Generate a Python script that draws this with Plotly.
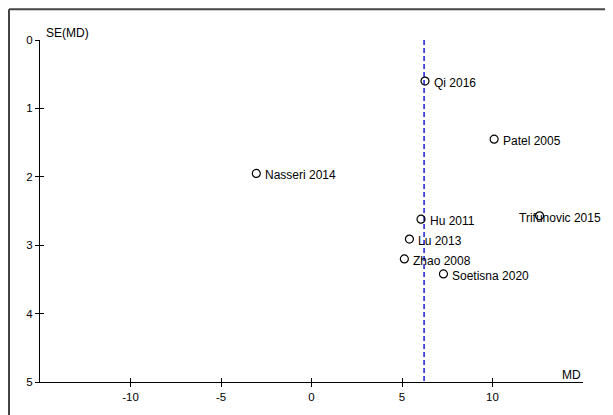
import plotly.graph_objects as go

# ---- data ----
studies = ["Qi 2016", "Patel 2005", "Nasseri 2014", "Hu 2011", "Trifunovic 2015",
           "Lu 2013", "Zhao 2008", "Soetisna 2020"]
md = [6.27, 10.09, -3.05, 6.05, 12.6, 5.41, 5.13, 7.29]
se_md = [0.60, 1.45, 1.95, 2.62, 2.57, 2.91, 3.20, 3.42]
pooled_md = 6.22
x_ticks = [-10, -5, 0, 5, 10]
x_tick_labels = ["-10", "-5", "0", "5", "10"]
y_ticks = [0, 1, 2, 3, 4, 5]
y_tick_labels = ["0", "1", "2", "3", "4", "5"]
x_range = [-15, 15]
y_range = [5, 0]

# label horizontal offsets (px) relative to marker
label_shift = {s: 7 for s in studies}
label_shift["Trifunovic 2015"] = -23

# page body has an 8px default margin, so the figure is 8px smaller
W, H = 605, 407
ML, MR, MT, MB = 32, 30, 32, 30
FONT = "Liberation Sans, Arial, sans-serif"

fig = go.Figure()

fig.add_trace(go.Scatter(
    x=[pooled_md, pooled_md], y=[y_range[1], y_range[0]], mode="lines",
    line=dict(color="#1a1acc", width=1.5, dash="5px,3px"),
    hoverinfo="skip", showlegend=False))

fig.add_trace(go.Scatter(
    x=md, y=se_md, mode="markers",
    marker=dict(symbol="circle-open", size=8, color="black", line=dict(width=1.2, color="black")),
    text=studies, showlegend=False))

# invisible trace on overlay axes (for inner tick halves)
fig.add_trace(go.Scatter(x=[x_range[0]], y=[y_range[0]], xaxis="x2", yaxis="y2",
                         mode="markers", marker=dict(opacity=0), hoverinfo="skip",
                         showlegend=False))

annotations = []
for s, x, y in zip(studies, md, se_md):
    annotations.append(dict(x=x, y=y, xref="x", yref="y", text=s, showarrow=False,
                            xanchor="left", yanchor="middle", xshift=label_shift[s],
                            yshift=-2, font=dict(family=FONT, size=12, color="black")))
annotations.append(dict(x=0, y=1, xref="paper", yref="paper", text="SE(MD)", showarrow=False,
                        xanchor="left", yanchor="bottom", xshift=4, yshift=-2,
                        font=dict(family=FONT, size=12, color="black")))
annotations.append(dict(x=1, y=0, xref="paper", yref="paper", text="MD", showarrow=False,
                        xanchor="right", yanchor="bottom", xshift=0, yshift=-2,
                        font=dict(family=FONT, size=12, color="black")))

pw = W - ML - MR
ph = H - MT - MB
bx0 = (1 - ML) / pw
by1 = 1 + (MT - 1) / ph
shapes = [
    dict(type="line", xref="paper", yref="paper", x0=bx0, x1=(W + 5 - ML) / pw, y0=by1, y1=by1,
         line=dict(color="#444444", width=2)),
    dict(type="line", xref="paper", yref="paper", x0=bx0, x1=bx0, y0=by1, y1=-(MB + 5) / ph,
         line=dict(color="#444444", width=2)),
]

axis_common = dict(showgrid=False, zeroline=False, tickfont=dict(family=FONT, size=11.5, color="black"))

fig.update_layout(
    width=W, height=H,
    margin=dict(l=ML, r=MR, t=MT, b=MB, pad=0),
    paper_bgcolor="white", plot_bgcolor="white",
    showlegend=False,
    xaxis=dict(range=x_range, tickvals=x_ticks, ticktext=x_tick_labels, ticks="outside",
               ticklen=4, tickcolor="black",
               showline=True, linecolor="black", linewidth=1.2, **axis_common),
    yaxis=dict(range=y_range, tickvals=y_ticks, ticktext=y_tick_labels, ticks="outside",
               ticklen=4, tickcolor="black",
               showline=True, linecolor="black", linewidth=1.2, **axis_common),
    xaxis2=dict(range=x_range, tickvals=x_ticks, ticks="inside", ticklen=4, tickcolor="black",
                showticklabels=False, showline=False, overlaying="x", side="bottom",
                anchor="y2", showgrid=False, zeroline=False),
    yaxis2=dict(range=y_range, tickvals=y_ticks, ticks="inside", ticklen=4, tickcolor="black",
                showticklabels=False, showline=False, overlaying="y", side="left",
                anchor="x2", showgrid=False, zeroline=False),
    annotations=annotations,
    shapes=shapes,
)

fig.write_html("out.html")
